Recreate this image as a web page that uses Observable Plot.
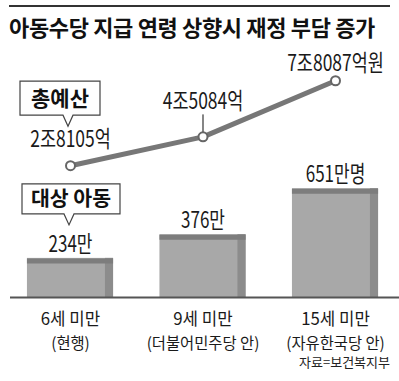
<!DOCTYPE html>
<html><head><meta charset="utf-8">
<script src="https://cdn.jsdelivr.net/npm/d3@7"></script>
<script src="https://cdn.jsdelivr.net/npm/@observablehq/plot@0.6"></script>
<style>
html,body{margin:0;padding:0;background:#fff;}
#chart{position:relative;width:399px;height:381px;overflow:hidden;font-family:'Noto Sans CJK KR',sans-serif;}
#rule{position:absolute;left:9px;top:5px;width:381px;height:2px;background:#333;}
#title{position:absolute;left:9px;top:15px;font-size:22px;line-height:22px;font-weight:bold;color:#111;white-space:nowrap;letter-spacing:-0.35px}
#source{position:absolute;right:9px;top:355px;font-size:13px;line-height:13px;color:#222;white-space:nowrap;}
.layer{position:absolute;left:0;top:0;}
</style></head><body>
<div id="chart"><div id="rule"></div><div id="title">아동수당 지급 연령 상향시 재정 부담 증가</div><div id="source">자료=보건복지부</div></div>
<script>
const categories = ["6세 미만", "9세 미만", "15세 미만"];
const subLabels = ["(현행)", "(더불어민주당 안)", "(자유한국당 안)"];
const children = [234, 376, 651];            // 만명
const childLabels = ["234만", "376만", "651만명"];
const budget = [2.8105, 4.5084, 7.8087];     // 조원
const budgetLabels = ["2조8105억", "4조5084억", "7조8087억원"];
const connectorShown = [false, true, false];

const rows = categories.map((cat, i) => ({
  cat, sub: subLabels[i], children: children[i], childLabel: childLabels[i],
  budget: budget[i], budgetLabel: budgetLabels[i], connector: connectorShown[i]
}));

const FONT = "'Noto Sans CJK KR', 'Noto Sans', sans-serif";
const xScale = {type: "band", domain: categories, range: [3.75, 401.25], paddingInner: 0.35, paddingOuter: 0.175, round: false, axis: null};

function callout(label, cat, value, o) {
  return (index, scales) => {
    const xs = scales.x, ys = scales.y;
    const bw = typeof xs.bandwidth === "function" ? xs.bandwidth() : 0;
    const tx = xs(cat) + bw / 2 + o.tipDx, ty = ys(value) + o.tipDy;
    const cx = tx + o.bx, bottom = ty - o.gap, top = bottom - o.h;
    const left = cx - o.w / 2, right = cx + o.w / 2;
    const g = d3.create("svg:g");
    g.append("path")
      .attr("d", `M${left},${top}H${right}V${bottom}H${tx + o.pw}L${tx},${ty}L${tx - o.pw},${bottom}H${left}Z`)
      .attr("fill", "white").attr("stroke", "#444").attr("stroke-width", 1.2);
    g.append("text").attr("x", cx).attr("y", (top + bottom) / 2 + o.fontSize * 0.36)
      .attr("text-anchor", "middle").attr("font-size", o.fontSize).attr("font-weight", "bold")
      .attr("fill", "#111").attr("font-family", FONT).text(label);
    return g.node();
  };
}

const stem = {draw(context, l) { context.moveTo(0, 0); context.lineTo(0, -l); }};

const barsPlot = Plot.plot({
  width: 399, height: 381, marginTop: 180, marginBottom: 84, marginLeft: 0, marginRight: 0,
  style: {fontFamily: FONT, background: "transparent", overflow: "visible"},
  x: xScale, y: {domain: [0, 700], axis: null},
  marks: [
    Plot.barY(rows, {x: "cat", y: "children", fill: "#a8a8a8"}),
    Plot.barY(rows, {x: "cat", y: "children", fill: "#8c8c8c", insetLeft: 78}),
    Plot.tickY(rows, {x: "cat", y: "children", stroke: "#7d7d7d", strokeWidth: 5, dy: 2.5}),
    Plot.ruleY([0], {stroke: "#555", strokeWidth: 2, insetLeft: 10}),
    Plot.text(rows, {x: "cat", y: "children", text: "childLabel", dy: -14, fontSize: 23, fill: "#1a1a1a"}),
    Plot.text(rows, {x: "cat", y: 0, text: "cat", dy: 22, fontSize: 17.5, fill: "#1a1a1a"}),
    Plot.text(rows, {x: "cat", y: 0, text: "sub", dy: 46, fontSize: 16, fill: "#1a1a1a"}),
    callout("대상 아동", categories[0], children[0], {tipDx: -1, tipDy: -33, bx: 2, w: 98, h: 30, gap: 11, pw: 5, fontSize: 20.5})
  ]
});

const linePlot = Plot.plot({
  width: 399, height: 381, marginTop: 77, marginBottom: 168, marginLeft: 0, marginRight: 0,
  style: {fontFamily: FONT, background: "transparent", overflow: "visible"},
  x: xScale, y: {domain: [0, 8], axis: null},
  marks: [
    Plot.line(rows, {x: "cat", y: "budget", stroke: "#777", strokeWidth: 5}),
    Plot.vector(rows.filter(d => d.connector), {x: "cat", y: "budget", length: 22, rotate: 0, anchor: "start", shape: stem, stroke: "#444", strokeWidth: 1.3}),
    Plot.dot(rows, {x: "cat", y: "budget", r: 4.5, fill: "white", stroke: "#666", strokeWidth: 2}),
    ...[-26, -35, -17].map((dy, i) => Plot.text([rows[i]], {x: "cat", y: "budget", text: "budgetLabel", dy, fontSize: 23, fill: "#1a1a1a"})),
    callout("총예산", categories[0], budget[0], {tipDx: -2, tipDy: -39, bx: -8, w: 80, h: 34, gap: 11, pw: 5, fontSize: 21})
  ]
});

function squeeze(svg, groupIdx, k) {
  const groups = svg.querySelectorAll('g[aria-label="text"]');
  for (const gi of groupIdx) {
    if (!groups[gi]) continue;
    groups[gi].querySelectorAll("text").forEach(t =>
      t.setAttribute("transform", (t.getAttribute("transform") || "") + ` scale(${k},1)`));
  }
}
squeeze(barsPlot, [0], 0.74);
squeeze(barsPlot, [1, 2], 0.96);
squeeze(linePlot, [0, 1, 2], 0.76);

const chart = document.getElementById("chart");
for (const p of [barsPlot, linePlot]) { p.classList.add("layer"); chart.appendChild(p); }
</script>
</body></html>
